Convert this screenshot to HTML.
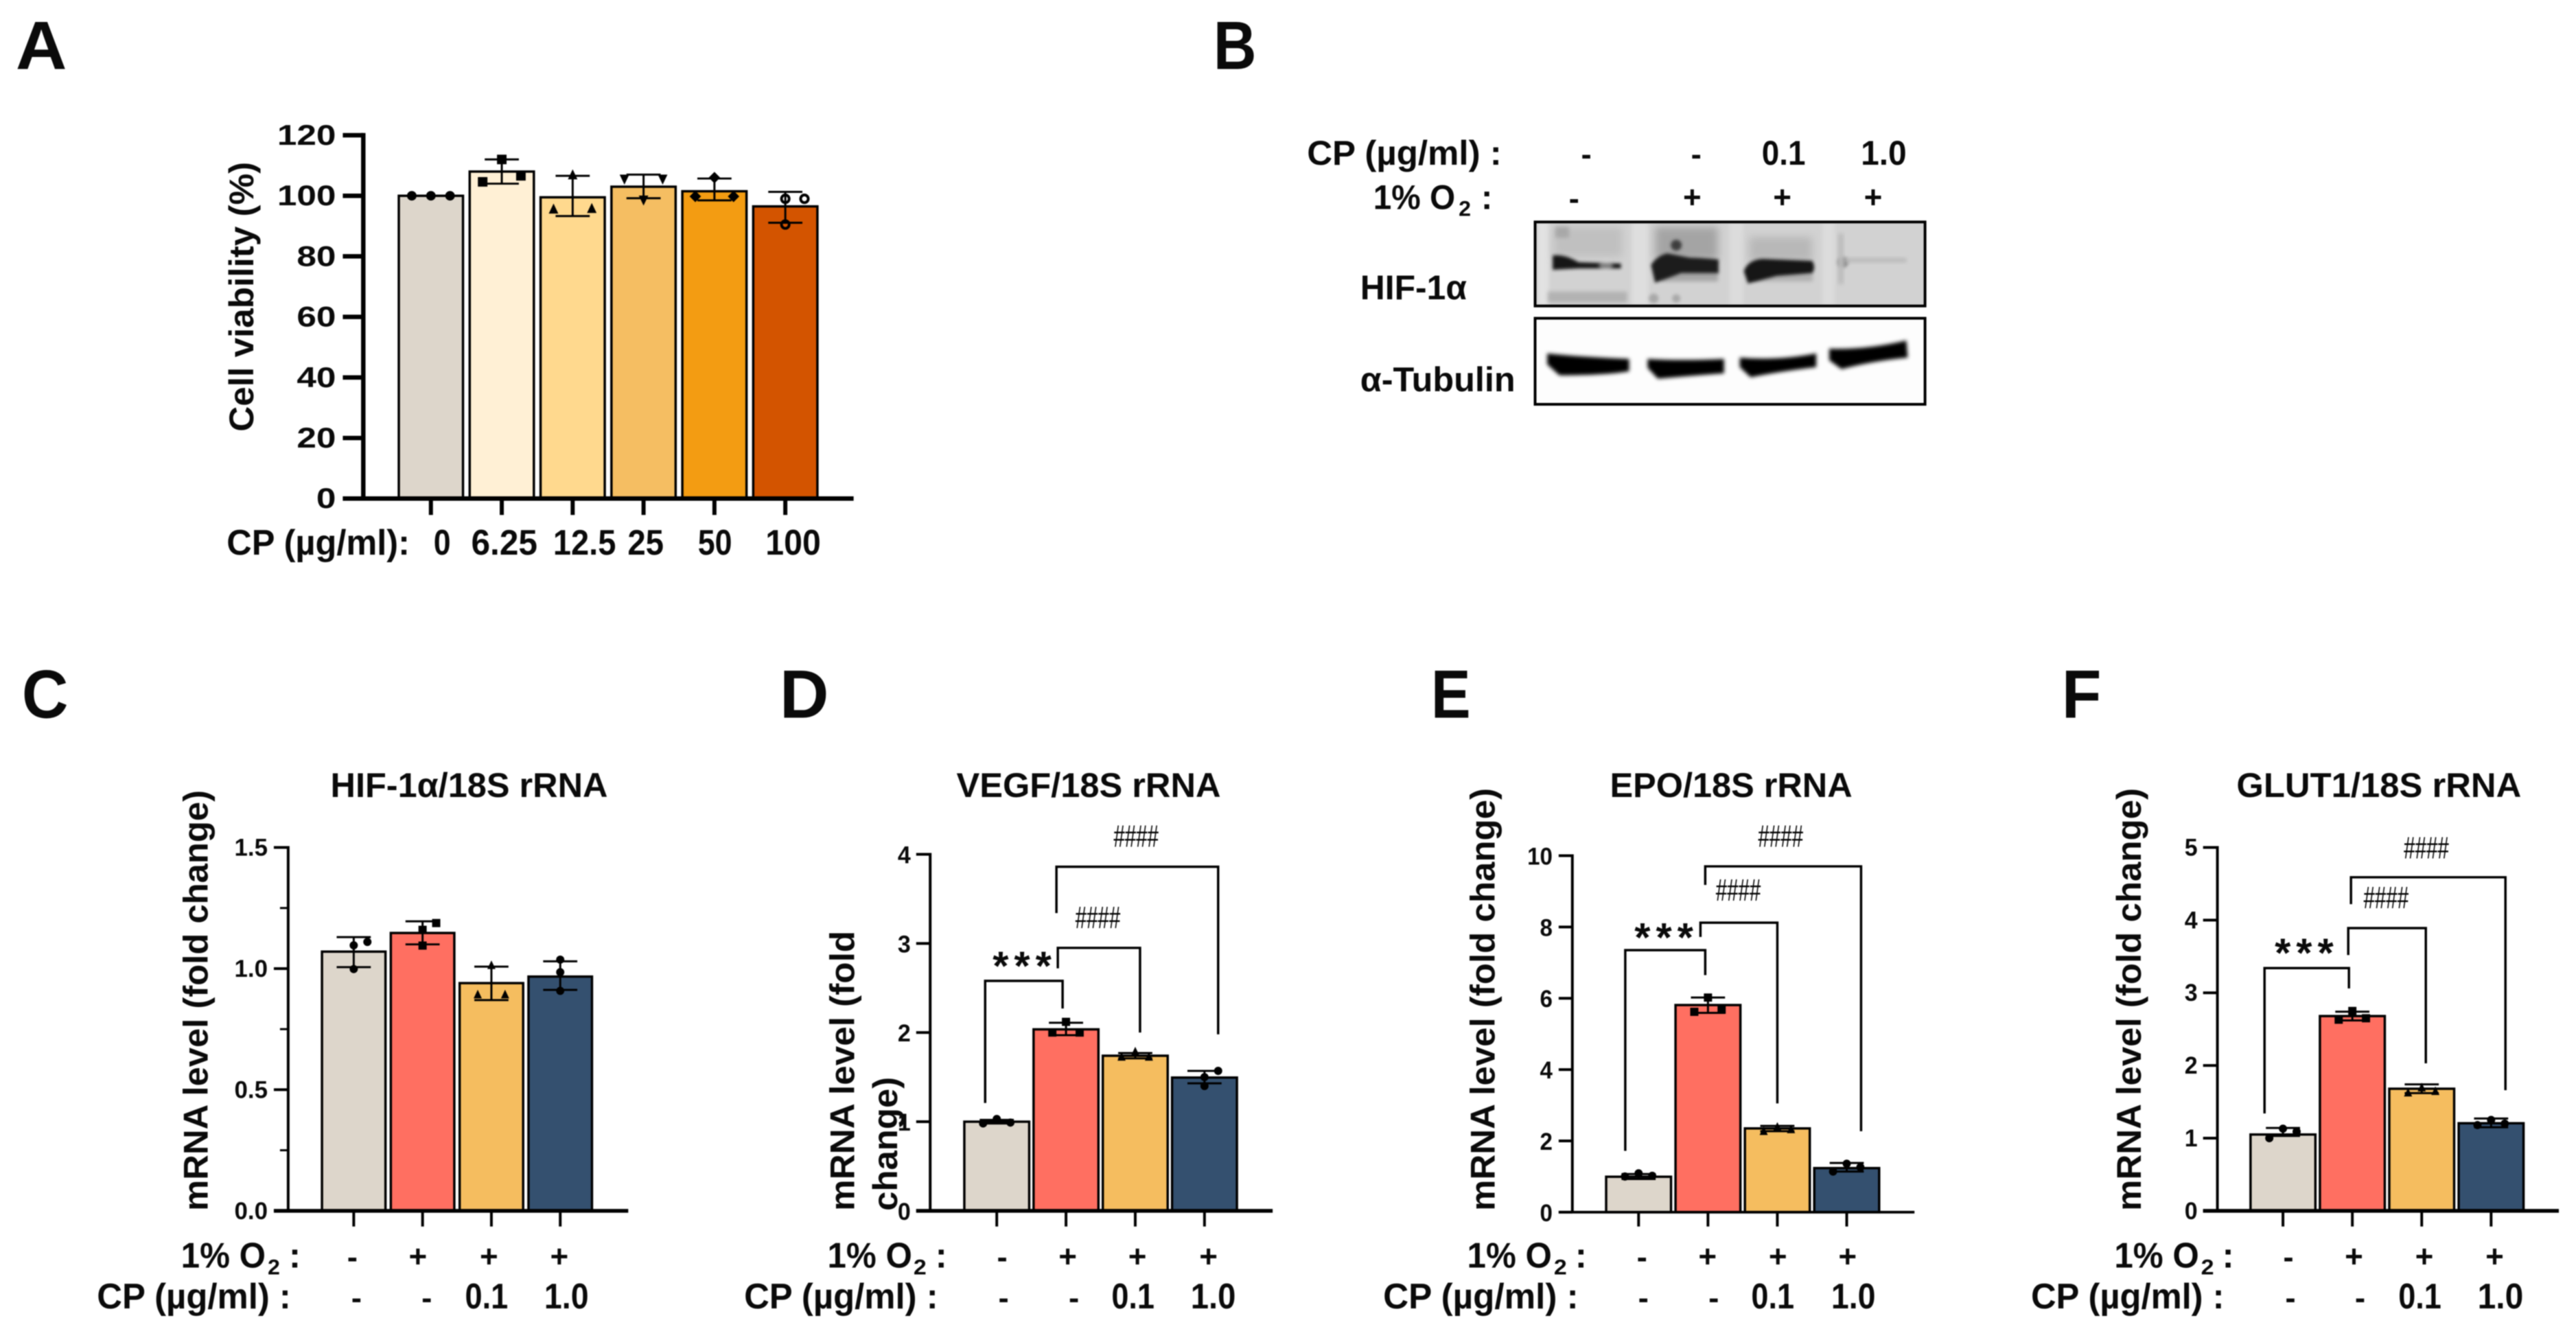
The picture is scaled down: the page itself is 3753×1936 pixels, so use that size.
<!DOCTYPE html>
<html lang="en">
<head>
<meta charset="utf-8">
<title>Cell viability, HIF-1α western blot and mRNA levels</title>
<style>
html,body{margin:0;padding:0;background:#fff;width:3753px;height:1936px;overflow:hidden}
#figure{display:block;filter:blur(0.7px)}
text{font-family:"Liberation Sans",Arial,"Noto Sans CJK SC",sans-serif;font-weight:700;fill:#0a0a0a}
.hash{font-weight:400;fill:#000}
</style>
</head>
<body>
<svg id="figure" xmlns="http://www.w3.org/2000/svg" width="3753" height="1936" viewBox="0 0 3753 1936">
<defs>
  <filter id="b2" x="-30%" y="-60%" width="160%" height="220%"><feGaussianBlur stdDeviation="2.5"/></filter>
  <filter id="b3" x="-30%" y="-60%" width="160%" height="220%"><feGaussianBlur stdDeviation="3"/></filter>
  <filter id="b6" x="-30%" y="-60%" width="160%" height="220%"><feGaussianBlur stdDeviation="6"/></filter>
  <filter id="b10" x="-40%" y="-60%" width="180%" height="220%"><feGaussianBlur stdDeviation="9"/></filter>
  <clipPath id="hif-clip"><rect x="2240" y="325" width="566" height="119"/></clipPath>
  <clipPath id="tub-clip"><rect x="2240" y="467" width="566" height="121"/></clipPath>
</defs>

<!-- PANEL A -->
<g transform="scale(0.9949)">
  <text x="23" y="101" font-size="100" textLength="75" lengthAdjust="spacingAndGlyphs">A</text>
  <text transform="translate(371,632) rotate(-90)" font-size="50" textLength="395" lengthAdjust="spacingAndGlyphs">Cell viability (%)</text>
  <g id="plot-a"></g>
  <text x="332" y="812" font-size="52" textLength="268" lengthAdjust="spacingAndGlyphs">CP (µg/ml):</text>
  <text x="635" y="812" font-size="52" textLength="25" lengthAdjust="spacingAndGlyphs">0</text>
  <text x="690" y="812" font-size="52" textLength="97" lengthAdjust="spacingAndGlyphs">6.25</text>
  <text x="810" y="812" font-size="52" textLength="92" lengthAdjust="spacingAndGlyphs">12.5</text>
  <text x="919" y="812" font-size="52" textLength="53" lengthAdjust="spacingAndGlyphs">25</text>
  <text x="1022" y="812" font-size="52" textLength="50" lengthAdjust="spacingAndGlyphs">50</text>
  <text x="1121" y="812" font-size="52" textLength="81" lengthAdjust="spacingAndGlyphs">100</text>
</g>

<!-- PANEL B -->
<g transform="translate(1750,0) scale(0.9949) translate(-1750,0)">
  <text x="1768" y="101" font-size="100" textLength="63" lengthAdjust="spacingAndGlyphs">B</text>
  <text x="1905" y="241" font-size="50" textLength="285" lengthAdjust="spacingAndGlyphs">CP (µg/ml) :</text>
  <text x="2314" y="241" font-size="46" text-anchor="middle">-</text>
  <text x="2475" y="241" font-size="46" text-anchor="middle">-</text>
  <text x="2571" y="241" font-size="50" textLength="64" lengthAdjust="spacingAndGlyphs">0.1</text>
  <text x="2716" y="241" font-size="50" textLength="67" lengthAdjust="spacingAndGlyphs">1.0</text>
  <text x="2002" y="306" font-size="50" textLength="120" lengthAdjust="spacingAndGlyphs">1% O</text>
  <text x="2127" y="316" font-size="32" textLength="18" lengthAdjust="spacingAndGlyphs">2</text>
  <text x="2160" y="306" font-size="50">:</text>
  <text x="2296" y="306" font-size="46" text-anchor="middle">-</text>
  <text x="2469" y="304" font-size="46" text-anchor="middle">+</text>
  <text x="2601" y="304" font-size="46" text-anchor="middle">+</text>
  <text x="2734" y="304" font-size="46" text-anchor="middle">+</text>
  <text x="1983" y="438" font-size="50" textLength="156" lengthAdjust="spacingAndGlyphs">HIF-1α</text>
  <text x="1983" y="573" font-size="50" textLength="227" lengthAdjust="spacingAndGlyphs">α-Tubulin</text>

  <g>
    <rect x="2239" y="325" width="571" height="123" fill="#d2d2d2"/>
    <g clip-path="url(#hif-clip)" transform="translate(2.7,2)">
      <rect x="2240" y="323" width="16" height="123" fill="#e2e2e2" filter="url(#b3)"/>
      <rect x="2378" y="323" width="24" height="123" fill="#dedede" filter="url(#b3)"/>
      <rect x="2521" y="323" width="20" height="123" fill="#dcdcdc" filter="url(#b3)"/>
      <rect x="2657" y="323" width="18" height="123" fill="#dcdcdc" filter="url(#b3)"/>
      <rect x="2264" y="330" width="100" height="44" fill="#c0c0c0" filter="url(#b6)"/>
      <rect x="2266" y="330" width="20" height="16" fill="#a8a8a8" filter="url(#b3)"/>
      <rect x="2412" y="330" width="92" height="48" fill="#a4a4a4" filter="url(#b6)"/>
      <rect x="2550" y="345" width="92" height="36" fill="#b8b8b8" filter="url(#b6)"/>
      <rect x="2255" y="425" width="116" height="16" fill="#b2b2b2" filter="url(#b3)"/>
      <circle cx="2410" cy="435" r="7" fill="#a8a8a8" filter="url(#b2)"/>
      <circle cx="2443" cy="435" r="6" fill="#a8a8a8" filter="url(#b2)"/>
      <rect x="2420" y="396" width="84" height="14" fill="#a6a6a6" filter="url(#b3)"/>
      <rect x="2555" y="398" width="88" height="12" fill="#b0b0b0" filter="url(#b3)"/>
      <path d="M2262 372 Q2280 370 2300 382 L2362 384 L2362 391 L2300 391 L2262 393 Z" fill="#161616" filter="url(#b2)"/>
      <circle cx="2340" cy="387" r="10" fill="#d2d2d2" opacity="0.55" filter="url(#b3)"/>
      <path d="M2406 386 Q2415 372 2430 369 L2462 375 Q2490 376 2505 378 L2505 398 L2450 398 L2412 412 Z" fill="#1a1a1a" filter="url(#b2)"/>
      <circle cx="2443" cy="357" r="8" fill="#3c3c3c" filter="url(#b2)"/>
      <path d="M2542 395 Q2548 378 2570 377 L2642 380 Q2648 390 2642 398 L2590 402 L2548 413 Z" fill="#161616" filter="url(#b2)"/>
      <circle cx="2687" cy="382" r="8" fill="#8c8c8c" filter="url(#b2)"/>
      <rect x="2690" y="376" width="90" height="6" fill="#b8b8b8" filter="url(#b3)"/>
      <rect x="2680" y="340" width="8" height="74" fill="#bcbcbc" filter="url(#b3)"/>
    </g>
    <rect x="2239" y="325" width="571" height="123" fill="none" stroke="#000" stroke-width="4"/>
  </g>

  <g>
    <rect x="2239" y="466" width="571" height="126" fill="#fdfdfd"/>
    <g clip-path="url(#tub-clip)" transform="translate(2.7,2.5)">
      <path d="M2254 515 Q2300 520 2374 523 L2374 541 Q2340 547 2272 547 L2254 531 Z" fill="#050505" filter="url(#b3)"/>
      <path d="M2401 523 Q2450 526 2513 523 L2513 544 Q2460 548 2416 552 L2401 536 Z" fill="#050505" filter="url(#b3)"/>
      <path d="M2536 521 Q2590 526 2648 515 L2648 535 Q2590 542 2552 550 L2536 535 Z" fill="#050505" filter="url(#b3)"/>
      <path d="M2667 508 Q2720 510 2780 496 L2782 521 Q2730 526 2685 538 L2667 525 Z" fill="#050505" filter="url(#b3)"/>
    </g>
    <rect x="2239" y="466" width="571" height="126" fill="none" stroke="#000" stroke-width="4"/>
  </g>
</g>

<!-- PANEL C -->
<g transform="translate(0,950) scale(0.9949) translate(0,-950)">
  <text x="32" y="1046" font-size="100" textLength="68" lengthAdjust="spacingAndGlyphs">C</text>
  <text x="484" y="1162" font-size="50" textLength="406" lengthAdjust="spacingAndGlyphs">HIF-1α/18S rRNA</text>
  <text transform="translate(304,1768) rotate(-90)" font-size="50" textLength="616" lengthAdjust="spacingAndGlyphs">mRNA level (fold change)</text>
  <g id="plot-c"></g>
  <text x="265" y="1851" font-size="52" textLength="124" lengthAdjust="spacingAndGlyphs">1% O</text>
  <text x="392" y="1861" font-size="32" textLength="18" lengthAdjust="spacingAndGlyphs">2</text>
  <text x="423" y="1851" font-size="52">:</text>
  <text x="516" y="1851" font-size="46" text-anchor="middle">-</text>
  <text x="612" y="1850" font-size="46" text-anchor="middle">+</text>
  <text x="716" y="1850" font-size="46" text-anchor="middle">+</text>
  <text x="819" y="1850" font-size="46" text-anchor="middle">+</text>
  <text x="142" y="1911" font-size="52" textLength="284" lengthAdjust="spacingAndGlyphs">CP (µg/ml) :</text>
  <text x="522" y="1911" font-size="46" text-anchor="middle">-</text>
  <text x="625" y="1911" font-size="46" text-anchor="middle">-</text>
  <text x="681" y="1911" font-size="52" textLength="63" lengthAdjust="spacingAndGlyphs">0.1</text>
  <text x="797" y="1911" font-size="52" textLength="65" lengthAdjust="spacingAndGlyphs">1.0</text>
</g>

<!-- PANEL D -->
<g transform="translate(1100,950) scale(0.9949) translate(-1100,-950)">
  <text x="1136" y="1046" font-size="100" textLength="72" lengthAdjust="spacingAndGlyphs">D</text>
  <text x="1395" y="1162" font-size="50" textLength="387" lengthAdjust="spacingAndGlyphs">VEGF/18S rRNA</text>
  <text transform="translate(1245,1768) rotate(-90)" font-size="50" textLength="410" lengthAdjust="spacingAndGlyphs">mRNA level (fold</text>
  <text transform="translate(1308,1768) rotate(-90)" font-size="50" textLength="196" lengthAdjust="spacingAndGlyphs">change)</text>
  <g id="plot-d"></g>
  <text x="1206" y="1851" font-size="52" textLength="124" lengthAdjust="spacingAndGlyphs">1% O</text>
  <text x="1332" y="1861" font-size="32" textLength="19" lengthAdjust="spacingAndGlyphs">2</text>
  <text x="1364" y="1851" font-size="52">:</text>
  <text x="1462" y="1851" font-size="46" text-anchor="middle">-</text>
  <text x="1558" y="1850" font-size="46" text-anchor="middle">+</text>
  <text x="1660" y="1850" font-size="46" text-anchor="middle">+</text>
  <text x="1764" y="1850" font-size="46" text-anchor="middle">+</text>
  <text x="1084" y="1911" font-size="52" textLength="284" lengthAdjust="spacingAndGlyphs">CP (µg/ml) :</text>
  <text x="1464" y="1911" font-size="46" text-anchor="middle">-</text>
  <text x="1567" y="1911" font-size="46" text-anchor="middle">-</text>
  <text x="1622" y="1911" font-size="52" textLength="63" lengthAdjust="spacingAndGlyphs">0.1</text>
  <text x="1738" y="1911" font-size="52" textLength="66" lengthAdjust="spacingAndGlyphs">1.0</text>
  <text class="hash" x="1658" y="1235" font-size="46" text-anchor="middle" textLength="66" lengthAdjust="spacingAndGlyphs">####</text>
  <text class="hash" x="1602" y="1354" font-size="46" text-anchor="middle" textLength="66" lengthAdjust="spacingAndGlyphs">####</text>
  <text x="1495" y="1430" font-size="60" text-anchor="middle" letter-spacing="8">***</text>
</g>

<!-- PANEL E -->
<g transform="translate(2050,950) scale(0.9949) translate(-2050,-950)">
  <text x="2085" y="1046" font-size="100" textLength="58" lengthAdjust="spacingAndGlyphs">E</text>
  <text x="2347" y="1162" font-size="50" textLength="355" lengthAdjust="spacingAndGlyphs">EPO/18S rRNA</text>
  <text transform="translate(2178,1768) rotate(-90)" font-size="50" textLength="619" lengthAdjust="spacingAndGlyphs">mRNA level (fold change)</text>
  <g id="plot-e"></g>
  <text x="2138" y="1851" font-size="52" textLength="124" lengthAdjust="spacingAndGlyphs">1% O</text>
  <text x="2265" y="1861" font-size="32" textLength="19" lengthAdjust="spacingAndGlyphs">2</text>
  <text x="2296" y="1851" font-size="52">:</text>
  <text x="2394" y="1851" font-size="46" text-anchor="middle">-</text>
  <text x="2490" y="1850" font-size="46" text-anchor="middle">+</text>
  <text x="2593" y="1850" font-size="46" text-anchor="middle">+</text>
  <text x="2695" y="1850" font-size="46" text-anchor="middle">+</text>
  <text x="2015" y="1911" font-size="52" textLength="286" lengthAdjust="spacingAndGlyphs">CP (µg/ml) :</text>
  <text x="2396" y="1911" font-size="46" text-anchor="middle">-</text>
  <text x="2499" y="1911" font-size="46" text-anchor="middle">-</text>
  <text x="2554" y="1911" font-size="52" textLength="63" lengthAdjust="spacingAndGlyphs">0.1</text>
  <text x="2671" y="1911" font-size="52" textLength="65" lengthAdjust="spacingAndGlyphs">1.0</text>
  <text class="hash" x="2597" y="1235" font-size="46" text-anchor="middle" textLength="66" lengthAdjust="spacingAndGlyphs">####</text>
  <text class="hash" x="2535" y="1314" font-size="46" text-anchor="middle" textLength="66" lengthAdjust="spacingAndGlyphs">####</text>
  <text x="2430" y="1388" font-size="60" text-anchor="middle" letter-spacing="8">***</text>
</g>

<!-- PANEL F -->
<g transform="translate(2950,950) scale(0.9949) translate(-2950,-950)">
  <text x="3004" y="1046" font-size="100" textLength="58" lengthAdjust="spacingAndGlyphs">F</text>
  <text x="3260" y="1162" font-size="50" textLength="417" lengthAdjust="spacingAndGlyphs">GLUT1/18S rRNA</text>
  <text transform="translate(3120,1768) rotate(-90)" font-size="50" textLength="619" lengthAdjust="spacingAndGlyphs">mRNA level (fold change)</text>
  <g id="plot-f"></g>
  <text x="3081" y="1851" font-size="52" textLength="124" lengthAdjust="spacingAndGlyphs">1% O</text>
  <text x="3208" y="1861" font-size="32" textLength="19" lengthAdjust="spacingAndGlyphs">2</text>
  <text x="3239" y="1851" font-size="52">:</text>
  <text x="3336" y="1851" font-size="46" text-anchor="middle">-</text>
  <text x="3432" y="1850" font-size="46" text-anchor="middle">+</text>
  <text x="3535" y="1850" font-size="46" text-anchor="middle">+</text>
  <text x="3638" y="1850" font-size="46" text-anchor="middle">+</text>
  <text x="2959" y="1911" font-size="52" textLength="283" lengthAdjust="spacingAndGlyphs">CP (µg/ml) :</text>
  <text x="3339" y="1911" font-size="46" text-anchor="middle">-</text>
  <text x="3441" y="1911" font-size="46" text-anchor="middle">-</text>
  <text x="3497" y="1911" font-size="52" textLength="63" lengthAdjust="spacingAndGlyphs">0.1</text>
  <text x="3613" y="1911" font-size="52" textLength="67" lengthAdjust="spacingAndGlyphs">1.0</text>
  <text class="hash" x="3538" y="1252" font-size="46" text-anchor="middle" textLength="66" lengthAdjust="spacingAndGlyphs">####</text>
  <text class="hash" x="3479" y="1325" font-size="46" text-anchor="middle" textLength="66" lengthAdjust="spacingAndGlyphs">####</text>
  <text x="3363" y="1411" font-size="60" text-anchor="middle" letter-spacing="8">***</text>
</g>
</svg>

<script>
// ---------- Panel A data ----------
const aTicks = [0, 20, 40, 60, 80, 100, 120];
const aTickLabels = ['0', '20', '40', '60', '80', '100', '120'];
const aCategories = ['0', '6.25', '12.5', '25', '50', '100'];
const aMeans = [100, 108, 99.5, 103, 101.5, 96.5];
const aErrLow = [100, 104, 93.3, 99.2, 98.5, 91.1];
const aErrHigh = [100, 112, 106.6, 107, 105.7, 101.3];
const aPoints = [[100, 100, 100], [104.6, 112, 106.6], [95.7, 107, 95.9], [105.4, 98.5, 105.4], [99.8, 106, 99.8], [99, 90.5, 99]];

// ---------- Panel C data ----------
const cTicks = [0, 0.5, 1, 1.5];
const cTickLabels = ['0.0', '0.5', '1.0', '1.5'];
const cMinorTicks = [0.25, 0.75, 1.25];
const cCategories = ['control', 'hypoxia', 'CP 0.1', 'CP 1.0'];
const cMeans = [1.07, 1.147, 0.94, 0.967];
const cErrLow = [1.006, 1.10, 0.87, 0.912];
const cErrHigh = [1.13, 1.195, 1.008, 1.03];
const cPoints = [[1.096, 1.11, 0.998], [1.16, 1.188, 1.095], [0.894, 1.015, 0.894], [1.037, 0.985, 0.908]];

// ---------- Panel D data ----------
const dTicks = [0, 1, 2, 3, 4];
const dTickLabels = ['0', '1', '2', '3', '4'];
const dCategories = ['control', 'hypoxia', 'CP 0.1', 'CP 1.0'];
const dMeans = [1.0, 2.036, 1.74, 1.495];
const dErrLow = [0.98, 1.97, 1.71, 1.43];
const dErrHigh = [1.02, 2.11, 1.77, 1.57];
const dPoints = [[0.98, 1.03, 0.99], [2.0, 2.12, 2.0], [1.73, 1.79, 1.73], [1.57, 1.5, 1.4]];
const dBracketFromCat = [0, 1, 1];
const dBracketToCat = [1, 2, 3];
const dBracketFromEnd = [1.21, 2.72, 3.34];
const dBracketTop = [2.58, 2.95, 3.86];
const dBracketToEnd = [2.27, 2.0, 1.98];

// ---------- Panel E data ----------
const eTicks = [0, 2, 4, 6, 8, 10];
const eTickLabels = ['0', '2', '4', '6', '8', '10'];
const eCategories = ['control', 'hypoxia', 'CP 0.1', 'CP 1.0'];
const eMeans = [0.994, 5.81, 2.35, 1.236];
const eErrLow = [0.93, 5.59, 2.27, 1.14];
const eErrHigh = [1.07, 6.02, 2.42, 1.38];
const ePoints = [[1.0, 1.09, 1.02], [5.62, 6.02, 5.68], [2.28, 2.4, 2.33], [1.14, 1.36, 1.26]];
const eBracketFromCat = [0, 1, 1];
const eBracketToCat = [1, 2, 3];
const eBracketFromEnd = [1.72, 7.72, 9.18];
const eBracketTop = [7.35, 8.12, 9.7];
const eBracketToEnd = [6.65, 3.05, 2.27];

// ---------- Panel F data ----------
const fTicks = [0, 1, 2, 3, 4, 5];
const fTickLabels = ['0', '1', '2', '3', '4', '5'];
const fCategories = ['control', 'hypoxia', 'CP 0.1', 'CP 1.0'];
const fMeans = [1.05, 2.68, 1.68, 1.205];
const fErrLow = [1.03, 2.62, 1.62, 1.15];
const fErrHigh = [1.14, 2.74, 1.74, 1.27];
const fPoints = [[1.0, 1.13, 1.09], [2.63, 2.75, 2.65], [1.63, 1.7, 1.65], [1.18, 1.25, 1.2]];
const fBracketFromCat = [0, 1, 1];
const fBracketToCat = [1, 2, 3];
const fBracketFromEnd = [1.34, 3.52, 4.22];
const fBracketTop = [3.34, 3.89, 4.59];
const fBracketToEnd = [3.06, 2.03, 1.66];

const SVGNS = 'http://www.w3.org/2000/svg';
const fourColors = ['#DDD6CB', '#FF6F61', '#F5BD5F', '#34506F'];
const sixColors = ['#DDD6CB', '#FFF0D5', '#FFD98E', '#F5BE62', '#F39C12', '#D35400'];

function make(tag, parent, attrs) {
  const el = document.createElementNS(SVGNS, tag);
  for (const k in attrs) el.setAttribute(k, attrs[k]);
  parent.appendChild(el);
  return el;
}

function drawMarker(parent, shape, cx, cy, r) {
  let el;
  if (shape === 'circle') {
    el = make('circle', parent, { cx: cx, cy: cy, r: r, fill: '#000' });
  } else if (shape === 'open') {
    el = make('circle', parent, { cx: cx, cy: cy, r: r * 0.8, fill: 'none', stroke: '#000', 'stroke-width': 4 });
  } else if (shape === 'square') {
    el = make('rect', parent, { x: cx - r, y: cy - r, width: 2 * r, height: 2 * r, fill: '#000' });
  } else if (shape === 'up') {
    el = make('path', parent, { d: 'M' + cx + ' ' + (cy - r * 1.1) + 'L' + (cx + r) + ' ' + (cy + r) + 'L' + (cx - r) + ' ' + (cy + r) + 'Z', fill: '#000' });
  } else if (shape === 'down') {
    el = make('path', parent, { d: 'M' + cx + ' ' + (cy + r * 1.1) + 'L' + (cx + r) + ' ' + (cy - r) + 'L' + (cx - r) + ' ' + (cy - r) + 'Z', fill: '#000' });
  } else {
    el = make('path', parent, { d: 'M' + cx + ' ' + (cy - r * 1.2) + 'L' + (cx + r * 1.2) + ' ' + cy + 'L' + cx + ' ' + (cy + r * 1.2) + 'L' + (cx - r * 1.2) + ' ' + cy + 'Z', fill: '#000' });
  }
  
  
}

function drawPanel(p) {
  const root = document.getElementById(p.id);
  const y = function (v) { return p.y0 + (p.yTop - p.y0) * v / p.yMax; };
  const x = function (i) { return p.x0 + p.step * i; };

  p.means.forEach(function (m, i) {
    const bar = make('rect', root, { x: x(i) - p.barW / 2, y: y(m), width: p.barW, height: p.y0 - y(m), fill: p.colors[i], stroke: '#000', 'stroke-width': p.barStroke });
    
    
  });

  p.means.forEach(function (m, i) {
    const eb = make('path', root, {
      d: 'M' + x(i) + ' ' + y(p.errLow[i]) + 'V' + y(p.errHigh[i]) +
         'M' + (x(i) - 25) + ' ' + y(p.errLow[i]) + 'H' + (x(i) + 25) +
         'M' + (x(i) - 25) + ' ' + y(p.errHigh[i]) + 'H' + (x(i) + 25),
      fill: 'none', stroke: '#000', 'stroke-width': 3
    });
    
    
    const slots = p.slots[i] || [-1, 0, 1];
    p.points[i].forEach(function (v, j) {
      drawMarker(root, p.shapes[i], x(i) + slots[j] * p.slotGap, y(v), p.markerR);
    });
  });

  const yAxis = make('line', root, { x1: p.axisX, x2: p.axisX, y1: y(p.yMax) - p.yLw / 2, y2: p.y0, stroke: '#000', 'stroke-width': p.yLw });
  
  
  const xAxis = make('line', root, { x1: p.tickLeft, x2: p.xEnd, y1: p.y0, y2: p.y0, stroke: '#000', 'stroke-width': p.xLw });
  
  

  p.ticks.forEach(function (v, i) {
    const tick = make('line', root, { x1: p.tickLeft, x2: p.axisX, y1: y(v), y2: y(v), stroke: '#000', 'stroke-width': p.yLw });
    
    
    const s = p.tickLabels[i];
    let chars = 0;
    for (const c of s) chars += (c === '.') ? 0.5 : 1;
    const lab = make('text', root, {
      x: p.tickLeft - p.labelGap, y: y(v) + p.labelDrop, 'font-size': p.tickFont, 'text-anchor': 'end',
      textLength: chars * p.digitW, lengthAdjust: 'spacingAndGlyphs'
    });
    lab.textContent = s;
    
    
  });

  (p.minor || []).forEach(function (v) {
    const mt = make('line', root, { x1: p.axisX - 12, x2: p.axisX, y1: y(v), y2: y(v), stroke: '#000', 'stroke-width': 3 });
    
    
  });

  p.means.forEach(function (m, i) {
    const xt = make('line', root, { x1: x(i), x2: x(i), y1: p.y0, y2: p.y0 + p.xTickLen, stroke: '#000', 'stroke-width': p.xTickW });
    
    
  });

  if (p.brFrom) {
    p.brFrom.forEach(function (c, i) {
      const xa = x(c) + p.brShiftA[i];
      const xb = x(p.brTo[i]) + p.brShiftB[i];
      const br = make('path', root, {
        d: 'M' + xa + ' ' + y(p.brFromEnd[i]) + 'V' + y(p.brTop[i]) + 'H' + xb + 'V' + y(p.brToEnd[i]),
        fill: 'none', stroke: '#000', 'stroke-width': 3.5
      });
      
      
    });
  }
}

drawPanel({
  id: 'plot-a', means: aMeans, errLow: aErrLow, errHigh: aErrHigh, points: aPoints,
  ticks: aTicks, tickLabels: aTickLabels, colors: sixColors,
  shapes: ['circle', 'square', 'up', 'down', 'diamond', 'open'], slots: { 5: [1, 0, 0] },
  x0: 631, step: 103.8, barW: 94, barStroke: 3.5, y0: 730, yTop: 198, yMax: 120,
  axisX: 532, tickLeft: 502, xEnd: 1250, yLw: 6.5, xLw: 6.5, xTickLen: 24, xTickW: 6,
  tickFont: 42, digitW: 28.7, labelGap: 10, labelDrop: 14, markerR: 7, slotGap: 28
});
drawPanel({
  id: 'plot-c', means: cMeans, errLow: cErrLow, errHigh: cErrHigh, points: cPoints,
  ticks: cTicks, tickLabels: cTickLabels, minor: cMinorTicks, colors: fourColors,
  shapes: ['circle', 'square', 'up', 'circle'], slots: { 0: [0, 1, 0], 1: [0, 1, 0], 3: [0, 0, 0] },
  x0: 518, step: 100.8, barW: 93, barStroke: 3.5, y0: 1768, yTop: 1236, yMax: 1.5,
  axisX: 422, tickLeft: 401, xEnd: 920, yLw: 4, xLw: 5.5, xTickLen: 23, xTickW: 4,
  tickFont: 35, digitW: 19.5, labelGap: 9, labelDrop: 12, markerR: 6, slotGap: 20
});
drawPanel({
  id: 'plot-d', means: dMeans, errLow: dErrLow, errHigh: dErrHigh, points: dPoints,
  ticks: dTicks, tickLabels: dTickLabels, colors: fourColors,
  shapes: ['circle', 'square', 'up', 'circle'], slots: { 3: [1, 0, 0] },
  x0: 1454, step: 101.4, barW: 95, barStroke: 3.5, y0: 1768, yTop: 1246, yMax: 4,
  axisX: 1356.5, tickLeft: 1336, xEnd: 1858, yLw: 4, xLw: 5.5, xTickLen: 23, xTickW: 4,
  tickFont: 35, digitW: 19, labelGap: 8, labelDrop: 13, markerR: 6, slotGap: 20,
  brFrom: dBracketFromCat, brTo: dBracketToCat, brFromEnd: dBracketFromEnd, brTop: dBracketTop, brToEnd: dBracketToEnd,
  brShiftA: [-17, -12, -14], brShiftB: [-5, 7, 20]
});
drawPanel({
  id: 'plot-e', means: eMeans, errLow: eErrLow, errHigh: eErrHigh, points: ePoints,
  ticks: eTicks, tickLabels: eTickLabels, colors: fourColors,
  shapes: ['circle', 'square', 'up', 'circle'], slots: {},
  x0: 2389, step: 101.6, barW: 95, barStroke: 3.5, y0: 1770, yTop: 1248, yMax: 10,
  axisX: 2292, tickLeft: 2272, xEnd: 2793, yLw: 4, xLw: 4, xTickLen: 21, xTickW: 4,
  tickFont: 35, digitW: 18.5, labelGap: 9, labelDrop: 13, markerR: 6, slotGap: 20,
  brFrom: eBracketFromCat, brTo: eBracketToCat, brFromEnd: eBracketFromEnd, brTop: eBracketTop, brToEnd: eBracketToEnd,
  brShiftA: [-19.5, -11, -4], brShiftB: [-4, 0, 21]
});
drawPanel({
  id: 'plot-f', means: fMeans, errLow: fErrLow, errHigh: fErrHigh, points: fPoints,
  ticks: fTicks, tickLabels: fTickLabels, colors: fourColors,
  shapes: ['circle', 'square', 'up', 'circle'], slots: {},
  x0: 3328, step: 101.6, barW: 95, barStroke: 3.5, y0: 1768, yTop: 1236, yMax: 5,
  axisX: 3232, tickLeft: 3211, xEnd: 3732, yLw: 4, xLw: 5.5, xTickLen: 23, xTickW: 4,
  tickFont: 35, digitW: 19, labelGap: 8, labelDrop: 12, markerR: 6, slotGap: 20,
  brFrom: fBracketFromCat, brTo: fBracketToCat, brFromEnd: fBracketFromEnd, brTop: fBracketTop, brToEnd: fBracketToEnd,
  brShiftA: [-27, -6, -2], brShiftB: [-5, 6, 21]
});
</script>
</body>
</html>
